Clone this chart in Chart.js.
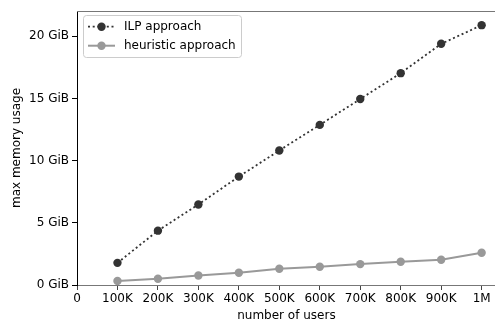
<!DOCTYPE html>
<html>
<head>
<meta charset="utf-8">
<script src="https://cdn.jsdelivr.net/npm/chart.js@4"></script>
<style>
  html, body { margin: 0; padding: 0; background: #fff; overflow: hidden; }
  #wrap { width: 500px; height: 325px; }
</style>
</head>
<body>
<div id="wrap"><canvas id="memoryChart"></canvas></div>
<script>
// number of users per run
const users = [100000, 200000, 300000, 400000, 500000, 600000, 700000, 800000, 900000, 1000000];
// peak memory in GiB
const ilpMemory = [1.78, 4.37, 6.48, 8.72, 10.82, 12.88, 14.96, 17.04, 19.4, 20.9];
const heuristicMemory = [0.32, 0.5, 0.77, 0.99, 1.31, 1.47, 1.68, 1.87, 2.03, 2.59];
const seriesNames = ['ILP approach', 'heuristic approach'];
// axis ticks
const userTicks = [0, 100000, 200000, 300000, 400000, 500000, 600000, 700000, 800000, 900000, 1000000];
const memoryTicks = [0, 5, 10, 15, 20];

const FONT = 'DejaVu Sans';
const ILP_COLOR = '#333333';
const HEUR_COLOR = '#999999';

function formatUsers(v) {
  if (v === 0) return '0';
  if (v >= 1000000) return (v / 1000000) + 'M';
  return (v / 1000) + 'K';
}

// top spine + boxed legend in the upper left corner
const frameAndLegend = {
  id: 'frameAndLegend',
  afterDraw(chart) {
    const ctx = chart.ctx;
    const area = chart.chartArea;
    ctx.save();
    ctx.strokeStyle = '#777777';
    ctx.lineWidth = 1;
    ctx.beginPath();
    ctx.moveTo(area.left, area.top + 0.5);
    ctx.lineTo(area.right, area.top + 0.5);
    ctx.stroke();

    const bx = 83.5, by = 15.5, bw = 158, bh = 42, r = 3;
    ctx.beginPath();
    ctx.moveTo(bx + r, by);
    ctx.arcTo(bx + bw, by, bx + bw, by + bh, r);
    ctx.arcTo(bx + bw, by + bh, bx, by + bh, r);
    ctx.arcTo(bx, by + bh, bx, by, r);
    ctx.arcTo(bx, by, bx + bw, by, r);
    ctx.closePath();
    ctx.fillStyle = 'rgba(255,255,255,0.8)';
    ctx.fill();
    ctx.strokeStyle = '#cccccc';
    ctx.stroke();

    const rows = [
      { y: 26.7, color: ILP_COLOR, dash: [2, 2.7], width: 1.8 },
      { y: 45.7, color: HEUR_COLOR, dash: [], width: 2 }
    ];
    rows.forEach((row, i) => {
      ctx.strokeStyle = row.color;
      ctx.lineWidth = row.width;
      ctx.setLineDash(row.dash);
      ctx.beginPath();
      ctx.moveTo(88, row.y);
      ctx.lineTo(115, row.y);
      ctx.stroke();
      ctx.setLineDash([]);
      ctx.fillStyle = row.color;
      ctx.beginPath();
      ctx.arc(101.5, row.y, 4.2, 0, Math.PI * 2);
      ctx.fill();
      ctx.fillStyle = '#000';
      ctx.font = '12px "' + FONT + '"';
      ctx.textBaseline = 'middle';
      ctx.textAlign = 'left';
      ctx.fillText(seriesNames[i], 124, row.y + 0.5);
    });
    ctx.restore();
  }
};

const ctx = document.getElementById('memoryChart').getContext('2d');
new Chart(ctx, {
  type: 'line',
  data: {
    datasets: [
      {
        label: seriesNames[0],
        data: users.map((u, i) => ({ x: u, y: ilpMemory[i] })),
        borderColor: ILP_COLOR,
        backgroundColor: ILP_COLOR,
        borderWidth: 1.8,
        borderDash: [2, 2.7],
        pointRadius: 4.2,
        pointBorderWidth: 0,
        fill: false,
        tension: 0
      },
      {
        label: seriesNames[1],
        data: users.map((u, i) => ({ x: u, y: heuristicMemory[i] })),
        borderColor: HEUR_COLOR,
        backgroundColor: HEUR_COLOR,
        borderWidth: 2,
        pointRadius: 4.2,
        pointBorderWidth: 0,
        fill: false,
        tension: 0
      }
    ]
  },
  options: {
    responsive: true,
    maintainAspectRatio: false,
    animation: false,
    events: [],
    layout: { padding: { left: 0, top: 11, right: 0, bottom: 0 } },
    plugins: {
      legend: { display: false },
      tooltip: { enabled: false }
    },
    scales: {
      x: {
        type: 'linear',
        min: 0,
        max: 1035000,
        afterBuildTicks(scale) { scale.ticks = userTicks.map(v => ({ value: v })); },
        afterFit(scale) { scale.height = 40; },
        grid: { drawOnChartArea: false, tickLength: 5, color: '#444', tickWidth: 1 },
        border: { color: '#777777', width: 1 },
        ticks: {
          autoSkip: false,
          maxRotation: 0,
          padding: 2,
          color: '#000',
          font: { family: FONT, size: 12 },
          callback: formatUsers
        },
        title: {
          display: true,
          text: 'number of users',
          color: '#000',
          font: { family: FONT, size: 12 },
          padding: { top: 0, bottom: 2 }
        }
      },
      y: {
        min: 0,
        max: 22.04,
        afterBuildTicks(scale) { scale.ticks = memoryTicks.map(v => ({ value: v })); },
        afterFit(scale) { scale.width = 77; },
        grid: { drawOnChartArea: false, tickLength: 5, color: '#000', tickWidth: 1 },
        border: { color: '#000', width: 1 },
        ticks: {
          padding: 3,
          color: '#000',
          font: { family: FONT, size: 12 },
          callback: v => v + ' GiB'
        },
        title: {
          display: true,
          text: 'max memory usage',
          color: '#000',
          font: { family: FONT, size: 12 },
          padding: { top: 10, bottom: 0 }
        }
      }
    }
  },
  plugins: [frameAndLegend]
});
</script>
</body>
</html>
